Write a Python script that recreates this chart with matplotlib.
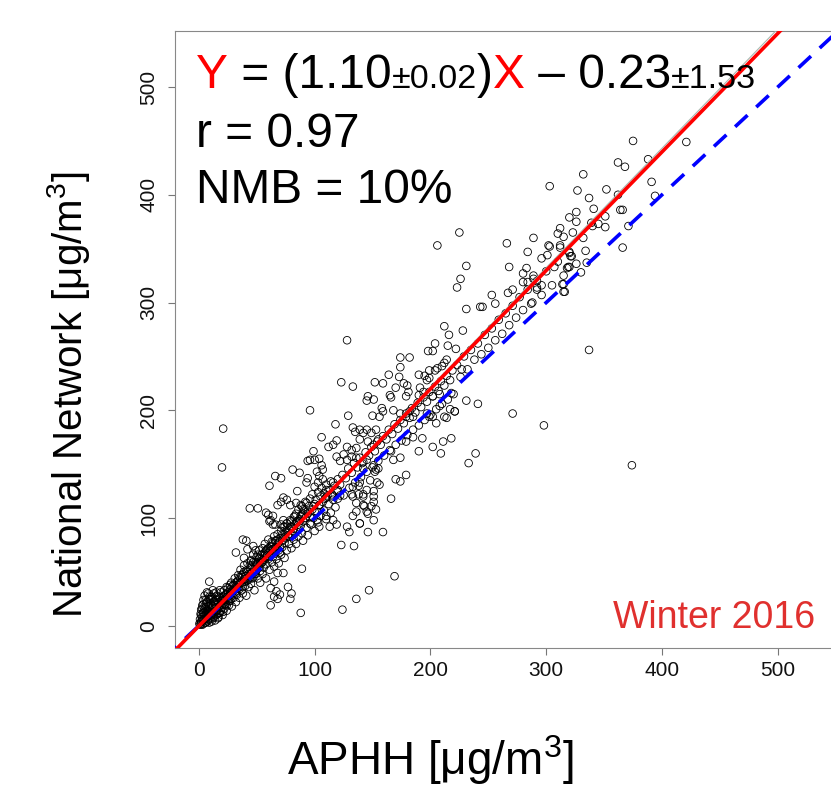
import numpy as np
import matplotlib
matplotlib.use('Agg')
import matplotlib.pyplot as plt

plt.rcParams['font.family'] = ['Liberation Sans', 'DejaVu Sans']
plt.rcParams['mathtext.fontset'] = 'custom'
plt.rcParams['mathtext.rm'] = 'Liberation Sans'

# APHH vs National Network PM2.5 pairs [ug/m3]
# dense band near the 1:1 line
band_pts = [
    (0.5, 2), (1, 6), (1.5, 11), (2, 4), (2, 15), (2.5, 8), (3, 19), (3, 1), (3.5, 12), (4, 5),
    (4, 24), (4.5, 9), (5, 16), (5, 28), (5.5, 3), (6, 11), (6, 20), (6.5, 7), (7, 14), (7, 31),
    (7.5, 4), (8, 18), (8, 9), (8.5, 25), (9, 13), (9.5, 6), (10, 21), (10, 15), (10.5, 10), (11, 27),
    (11, 4), (11.5, 17), (12, 12), (12.5, 22), (13, 8), (13, 30), (13.5, 16), (14, 13), (14.5, 24), (15, 10),
    (15, 19), (15.5, 28), (16, 15), (16.5, 7), (17, 22), (17, 17), (17.5, 12), (18, 26), (18.5, 19), (19, 14),
    (19, 31), (19.5, 23), (20, 17), (20.5, 10), (21, 27), (21, 21), (22, 16), (22, 33), (22.5, 25), (23, 20),
    (23.5, 29), (24, 14), (24, 36), (25, 24), (25, 31), (26, 19), (26.5, 28), (27, 34), (27, 23), (28, 40),
    (28, 29), (28.5, 18), (29, 33), (30, 26), (30, 38),
    (31, 44), (31, 31), (32, 36), (32, 22), (33, 41), (33, 29), (34, 47), (34, 35), (35, 39), (35, 26),
    (36, 44), (36, 52), (37, 33), (37, 40), (38, 48), (38, 30), (39, 43), (39, 56), (40, 37), (40, 46),
    (41, 51), (41, 28), (42, 42), (42, 58), (43, 48), (43, 36), (44, 53), (44, 44), (45, 61), (45, 39),
    (46, 50), (46, 56), (47, 45), (47, 66), (48, 53), (48, 33), (49, 59), (49, 48), (50, 64), (50, 52),
    (51, 44), (51, 57), (52, 62), (52, 70), (53, 51), (53, 40), (54, 66), (54, 58), (55, 72), (55, 48),
    (56, 61), (56, 54), (57, 68), (57, 76), (58, 57), (58, 44), (59, 65), (59, 71), (60, 62), (60, 80),
    (61, 69), (61, 52), (62, 74), (62, 66), (63, 59), (63, 78), (64, 71), (64, 64), (65, 83), (65, 55),
    (66, 73), (66, 67), (67, 79), (67, 62), (68, 76), (68, 85), (69, 70), (69, 58), (70, 81), (70, 74),
    (71, 88), (71, 66), (72, 79), (72, 73), (73, 84), (73, 92), (74, 77), (74, 63), (75, 87), (75, 81),
    (76, 95), (76, 70), (77, 84), (78, 90), (78, 76), (79, 98), (79, 85), (80, 72), (80, 92), (81, 88),
    (82, 101), (82, 80), (83, 94), (83, 86), (84, 76), (84, 104), (85, 97), (85, 90), (86, 83), (86, 108),
    (87, 99), (88, 93), (88, 112), (89, 86), (89, 103), (90, 97), (90, 79), (91, 107), (92, 100), (92, 115),
    (93, 91), (94, 104), (94, 84), (95, 111), (96, 101), (96, 118), (97, 94), (98, 108), (98, 122), (99, 100),
    (100, 113), (100, 88), (101, 117), (102, 106), (103, 124), (103, 96), (104, 112), (105, 120), (105, 102), (106, 128),
    (107, 115), (108, 107), (108, 123), (109, 118), (110, 99), (110, 131), (111, 121), (112, 113), (113, 126), (114, 105),
    (114, 134), (115, 122), (116, 117), (117, 130), (118, 110), (119, 125), (120, 136), (120, 118),
    (122, 131), (124, 140), (125, 121), (127, 137), (129, 146), (130, 128), (132, 142), (134, 151), (135, 133), (137, 147),
    (139, 156), (140, 138), (142, 152), (144, 161), (145, 143), (147, 158), (149, 166), (150, 147), (152, 162), (154, 171),
    (155, 153), (157, 168), (159, 176), (160, 158), (162, 173), (164, 182), (165, 163), (167, 178), (169, 187), (170, 168),
    (172, 183), (174, 191), (175, 172), (177, 188), (179, 197), (180, 177), (182, 193), (184, 202), (185, 182), (187, 198),
    (189, 207), (190, 186), (192, 203), (194, 212), (195, 191), (197, 208), (199, 217), (200, 196), (202, 213), (204, 222),
    (205, 201), (207, 218), (209, 227), (210, 206), (212, 223), (214, 232), (215, 210), (217, 228), (219, 237), (220, 215),
    (223, 242), (226, 231), (229, 250), (232, 238), (235, 256), (238, 247), (241, 262), (244, 252), (247, 270), (250, 258),
    (253, 276), (256, 265), (259, 284), (262, 271), (265, 290), (268, 279), (271, 297), (274, 286), (277, 305), (280, 293),
    (284, 312), (288, 300), (292, 320), (296, 307), (300, 329), (305, 316), (310, 338), (315, 325), (320, 347), (326, 336),
]

# extra points in the crowded low end of the band
core_pts = [
    (1, 1), (2, 2), (2, 10), (3, 6), (3, 16), (4, 2), (4, 12), (4, 20), (5, 7), (5, 13),
    (6, 3), (6, 17), (6, 24), (7, 10), (7, 22), (8, 6), (8, 14), (8, 30), (9, 3), (9, 18),
    (9, 27), (10, 9), (10, 25), (11, 12), (11, 19), (12, 7), (12, 25), (12, 33), (13, 11), (13, 23),
    (14, 5), (14, 20), (15, 14), (15, 31), (16, 11), (16, 24), (17, 8), (17, 27), (18, 12), (18, 33),
    (19, 21), (20, 24), (21, 13), (22, 20), (22, 28), (23, 24), (24, 30), (24, 19), (25, 27), (25, 35),
    (26, 23), (27, 30), (27, 38), (28, 25), (29, 37), (30, 32), (31, 38), (32, 30), (32, 40), (33, 35),
    (34, 42), (35, 34), (35, 45), (36, 40), (37, 47), (38, 36), (39, 50), (40, 41), (41, 46), (42, 50),
    (43, 44), (44, 56), (45, 48), (46, 44), (47, 59), (48, 48), (49, 55), (50, 58), (51, 66), (52, 54),
    (53, 58), (54, 62), (55, 59), (56, 67), (57, 63), (58, 70), (59, 67), (60, 72), (61, 64), (62, 70),
    (63, 73), (64, 77), (65, 69), (66, 79), (67, 73), (68, 80), (69, 77), (70, 68), (72, 85), (74, 82),
    (76, 88), (78, 83), (80, 97), (82, 90), (84, 96), (86, 94), (88, 102), (90, 104),
]

# low-concentration points off the band
low_pts = [
    (60, 103), (62, 98), (64, 94), (71, 94), (74, 92), (38, 80), (41, 79), (47, 74), (49, 70), (42, 71),
    (39, 63), (45, 60), (52, 63), (55, 61), (32, 68), (9, 41), (89, 53), (68, 49), (73, 49), (65, 41),
    (62, 35), (67, 32), (70, 29), (65, 27), (68, 25), (77, 36), (80, 30), (79, 25), (62, 19), (88, 12),
]

# middle range (roughly 50-280)
mid_pts = [
    (128, 265), (212, 278), (228, 274), (216, 270), (215, 260), (222, 257), (204, 262), (198, 255), (202, 255), (174, 249),
    (182, 249), (174, 240), (214, 247), (212, 244), (210, 241), (206, 239), (204, 237), (227, 238), (164, 233), (190, 233),
    (199, 237), (195, 232), (197, 228), (199, 230), (173, 231), (177, 225), (152, 226), (159, 225), (123, 226), (133, 222),
    (170, 221), (180, 223), (181, 217), (179, 213), (191, 221), (194, 217), (190, 214), (146, 213), (151, 210), (145, 209),
    (165, 214), (166, 212), (202, 213), (208, 215), (218, 216), (231, 209), (217, 201), (221, 199), (96, 200), (129, 195),
    (158, 202), (159, 199), (156, 194), (150, 195), (168, 200), (174, 197), (179, 194), (182, 199), (185, 194), (197, 197),
    (202, 194), (208, 204), (212, 194),
    (118, 187), (21, 183), (20, 147), (106, 175), (112, 166), (116, 168), (119, 172), (133, 184), (135, 180), (139, 182),
    (142, 179), (145, 182), (149, 179), (153, 182), (139, 173), (146, 171), (151, 168), (155, 173), (128, 166), (132, 163),
    (136, 165), (99, 162), (119, 157), (125, 159), (122, 153), (128, 154), (132, 157), (96, 154), (100, 154), (94, 153),
    (104, 155), (106, 149), (107, 145), (136, 156), (141, 151), (142, 146), (145, 154), (151, 149), (153, 145), (81, 145),
    (87, 142), (102, 143), (104, 139), (107, 136), (103, 133), (100, 129), (94, 137), (93, 133), (66, 139), (71, 137),
    (61, 130), (85, 125), (110, 126), (116, 133), (120, 126), (122, 121), (116, 120), (110, 119), (133, 129), (139, 133),
    (145, 126), (148, 135), (142, 120), (138, 122), (132, 122), (136, 114), (154, 133), (151, 125), (142, 112), (149, 111),
    (153, 108), (73, 119), (76, 117), (71, 115), (68, 112), (79, 112), (84, 114), (89, 111), (93, 114), (99, 111),
    (104, 112), (100, 106), (94, 106), (90, 108), (44, 109), (51, 109), (58, 105), (64, 102), (61, 97), (66, 94),
    (73, 98), (76, 95), (79, 92), (83, 102), (87, 97), (92, 100), (96, 95), (102, 98), (104, 92), (110, 102),
    (116, 98), (119, 94), (113, 92), (128, 92), (133, 102), (139, 95), (145, 106), (151, 98),
    (241, 206), (271, 197), (298, 186), (218, 174), (211, 171), (202, 166), (209, 160), (190, 162), (193, 174), (239, 160),
    (233, 151), (179, 140), (174, 134), (170, 136), (156, 131), (166, 118), (151, 115), (143, 111), (136, 106), (146, 104),
    (139, 95), (130, 87), (146, 87), (159, 87), (123, 75), (134, 74), (169, 46), (147, 33), (136, 25), (124, 15),
    (199, 194), (205, 188), (214, 193), (221, 199), (185, 175), (168, 154), (174, 156), (179, 171), (166, 162), (152, 143),
    (155, 146), (138, 130), (133, 120), (142, 122), (151, 120), (374, 149),
]

# upper range (roughly 280-450)
upper_pts = [
    (375, 450), (421, 449), (362, 430), (368, 426), (388, 433), (332, 419), (303, 408), (327, 404), (352, 405), (337, 397),
    (362, 400), (391, 412), (394, 399), (341, 387), (364, 386), (366, 386), (326, 384), (320, 379), (351, 380), (326, 375),
    (339, 374), (345, 373), (340, 371), (351, 370), (371, 371), (312, 369), (310, 364), (315, 361), (323, 365), (289, 360),
    (332, 360), (225, 365), (206, 353), (266, 355), (302, 353), (303, 352), (312, 351), (320, 346), (321, 343), (284, 347),
    (301, 344), (296, 341), (231, 334), (268, 333), (283, 332), (280, 327), (307, 333), (320, 333), (318, 332), (226, 322),
    (223, 314), (289, 325), (289, 322), (280, 319), (284, 319), (296, 316), (292, 314), (292, 312), (314, 317), (315, 310),
    (271, 312), (267, 309), (253, 307), (256, 299), (287, 299), (243, 296), (245, 296), (231, 294), (366, 351), (334, 348),
    (335, 337), (330, 328), (316, 310), (315, 317), (322, 343), (319, 333), (312, 353), (337, 256),
]

# lines: 1:1 reference, regression from the panel text, faint smoother
line_x = [-30, 600]
fit_slope, fit_icpt = 1.10, -0.23
smooth_x = [0, 500]
smooth_y = [0, 554]

ticks = [0, 100, 200, 300, 400, 500]
lims = (-20.6, 552)

fig = plt.figure(figsize=(8.31, 7.87), dpi=100)
W, H = 831, 787
ax = fig.add_axes([175 / W, 139 / H, 663 / W, 617 / H])

pts = np.array(band_pts + core_pts + low_pts + mid_pts + upper_pts, dtype=float)
ax.scatter(pts[:, 0], pts[:, 1], s=30, facecolors='none', edgecolors='black',
           linewidths=0.6, zorder=2)

ax.plot(line_x, line_x, color='#0000ff', lw=2.6, ls=(0, (4.7, 3.3)), zorder=3)
ax.plot(smooth_x, smooth_y, color='#a8b8b0', lw=0.8, zorder=3)
ax.plot(line_x, [fit_slope * v + fit_icpt for v in line_x], color='#ff0000', lw=2.6, zorder=4)

ax.set_xlim(lims)
ax.set_ylim(lims)
ax.set_xticks(ticks)
ax.set_yticks(ticks)
ax.tick_params(direction='out', length=5, width=0.8, color='#777777', labelsize=15,
               labelcolor='#111111')
ax.tick_params(axis='x', pad=4)
ax.tick_params(axis='y', pad=7, labelrotation=90)
for lab in ax.get_yticklabels():
    lab.set_va('center')
for s in ax.spines.values():
    s.set_color('#888888')
    s.set_linewidth(0.8)
ax.spines['right'].set_visible(False)

ax.set_xlabel(r'APHH [μg/m$^3$]', fontsize=33)
ax.xaxis.set_label_coords(0.385, -0.138)
ax.set_ylabel(r'National Network [μg/m$^3$]', fontsize=29)
ax.yaxis.set_label_coords(-0.125, 0.41)


# equation built from pieces so the colors and small ± parts line up
def put_pieces(x_px, base_px, pieces):
    fig.canvas.draw()
    r = fig.canvas.get_renderer()
    x = x_px
    for txt, size, col in pieces:
        t = fig.text(x / W, (H - base_px) / H, txt, fontsize=size, color=col,
                     ha='left', va='baseline', zorder=10)
        x += t.get_window_extent(r).width


big, small = 34.5, 24.5
put_pieces(196, 88, [('Y', big, '#ff0000'), (' = (1.10', big, 'black'), ('±0.02', small, 'black'),
                     (')', big, 'black'), ('X', big, '#ff0000'), (' – 0.23', big, 'black'),
                     ('±1.53', small, 'black')])
put_pieces(196, 147, [('r = 0.97', big, 'black')])
put_pieces(196, 203, [('NMB = 10%', big, 'black')])

fig.text(815 / W, (H - 628) / H, 'Winter 2016', fontsize=27, color='#e0302e',
         ha='right', va='baseline')

fig.savefig('out.png', dpi=100)
